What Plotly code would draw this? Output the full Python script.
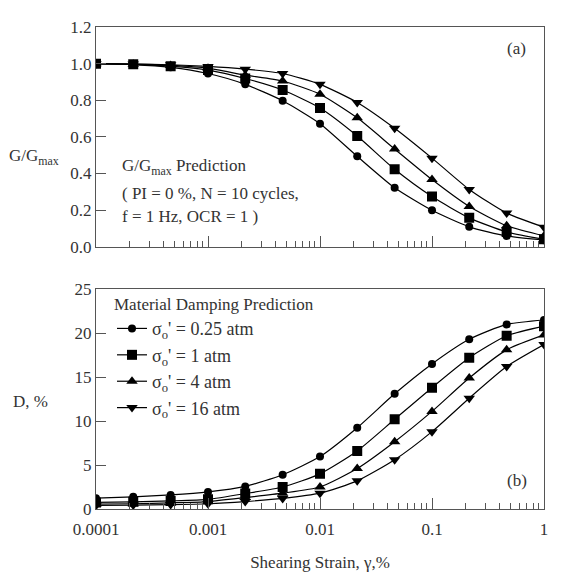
import plotly.graph_objects as go

# ---------------- data ----------------
strain = [0.0001, 0.000215, 0.000464, 0.001, 0.00215, 0.00464, 0.01,
          0.0215, 0.0464, 0.1, 0.215, 0.464, 1.0]

series_names = ["σ<sub>o</sub>' = 0.25 atm", "σ<sub>o</sub>' = 1 atm",
                "σ<sub>o</sub>' = 4 atm", "σ<sub>o</sub>' = 16 atm"]

ggmax_025 = [1.0, 0.995, 0.980, 0.946, 0.887, 0.797, 0.672, 0.494, 0.322, 0.199, 0.109, 0.059, 0.036]
ggmax_1 = [1.0, 0.996, 0.986, 0.965, 0.919, 0.856, 0.758, 0.605, 0.423, 0.274, 0.158, 0.081, 0.041]
ggmax_4 = [1.0, 0.997, 0.990, 0.975, 0.937, 0.905, 0.833, 0.704, 0.534, 0.367, 0.220, 0.115, 0.059]
ggmax_16 = [1.0, 0.998, 0.994, 0.985, 0.970, 0.946, 0.887, 0.788, 0.647, 0.484, 0.313, 0.184, 0.107]

damp_025 = [1.23, 1.38, 1.60, 1.94, 2.57, 3.90, 5.97, 9.25, 13.1, 16.5, 19.3, 21.0, 21.5]
damp_1 = [0.75, 0.82, 0.92, 1.10, 1.75, 2.50, 4.00, 6.60, 10.2, 13.8, 17.2, 19.7, 20.8]
damp_4 = [0.55, 0.60, 0.70, 0.85, 1.30, 1.80, 2.50, 4.60, 7.65, 11.1, 14.9, 18.1, 19.8]
damp_16 = [0.40, 0.45, 0.50, 0.60, 0.85, 1.20, 1.80, 3.20, 5.60, 8.80, 12.6, 16.2, 18.7]

x_tick_vals = [0.0001, 0.001, 0.01, 0.1, 1]
x_tick_text = ["0.0001", "0.001", "0.01", "0.1", "1"]

ggmax_series = [ggmax_025, ggmax_1, ggmax_4, ggmax_16]
damp_series = [damp_025, damp_1, damp_4, damp_16]

note_lines = ["G/G<sub>max</sub> Prediction", "( PI = 0 %, N = 10 cycles,", "f = 1 Hz, OCR = 1 )"]

# ---------------- styling ----------------
OFF = 8  # default page body margin
W, H = 565 - OFF, 582 - OFF
ML, MR, MT, MB = 88, 21, 10, 73
PW, PH = W - ML - MR, H - MT - MB
FONT = "Liberation Serif, Times New Roman, serif"
TXT = "#333333"
AX = "#555555"

symbols = ["circle", "square", "triangle-up", "triangle-down"]
msizes = [8, 10, 10, 10]


def px(x):
    return (x - OFF - ML) / PW


def py(y):
    return (H - MB - (y - OFF)) / PH


fig = go.Figure()

for i in range(4):
    fig.add_trace(go.Scatter(
        x=strain, y=ggmax_series[i], mode="lines+markers",
        line=dict(color="black", width=1.2, shape="spline", smoothing=0.6),
        marker=dict(symbol=symbols[i], size=msizes[i], color="black"),
        xaxis="x", yaxis="y", showlegend=False, name=series_names[i]))

for i in range(4):
    fig.add_trace(go.Scatter(
        x=strain, y=damp_series[i], mode="lines+markers",
        line=dict(color="black", width=1.2, shape="spline", smoothing=0.6),
        marker=dict(symbol=symbols[i], size=msizes[i], color="black"),
        xaxis="x2", yaxis="y2", showlegend=True, name=series_names[i]))

minor_common = dict(ticks="inside", ticklen=6, tickcolor=AX, dtick="D1", showgrid=False)

xcommon = dict(type="log", range=[-4, 0], showline=True, linecolor=AX, linewidth=1.2,
               mirror=True, ticks="inside", ticklen=11, tickcolor=AX, showgrid=False,
               zeroline=False, tickvals=x_tick_vals, ticktext=x_tick_text,
               minor=minor_common,
               tickfont=dict(family=FONT, size=17, color=TXT))

ycommon = dict(showline=True, linecolor=AX, linewidth=1.2, mirror=True,
               ticks="inside", ticklen=10, tickcolor=AX, showgrid=False, zeroline=False,
               tickfont=dict(family=FONT, size=17, color=TXT))


def label(text, x, y, xanchor="center"):
    return dict(text=text, x=px(x), y=py(y), xref="paper", yref="paper",
                xanchor=xanchor, yanchor="middle", showarrow=False,
                font=dict(family=FONT, size=17, color=TXT))


annotations = [
    label("G/G<sub>max</sub>", 34, 150),
    label("D, %", 30, 400),
    label("(a)", 516, 40),
    label("(b)", 517, 480),
]
for txt, yy in zip(note_lines, [161, 188, 211]):
    annotations.append(label(txt, 120, yy, xanchor="left"))

fig.update_layout(
    width=W, height=H,
    margin=dict(l=ML, r=MR, t=MT, b=MB),
    paper_bgcolor="white", plot_bgcolor="white",
    font=dict(family=FONT, color=TXT, size=16),
    xaxis=dict(**xcommon, domain=[0, 1], anchor="y", showticklabels=False),
    yaxis=dict(**ycommon, domain=[0.544, 1], anchor="x", range=[0, 1.2], dtick=0.2,
               tickformat=".1f"),
    xaxis2=dict(**xcommon, domain=[0, 1], anchor="y2", ticklabelstandoff=4,
                title=dict(text="Shearing Strain, γ,%",
                           font=dict(family=FONT, size=17, color=TXT), standoff=18)),
    yaxis2=dict(**ycommon, domain=[0, 0.456], anchor="x2", range=[0, 25], dtick=5),
    legend=dict(x=px(112), y=py(284), xanchor="left", yanchor="top",
                bgcolor="rgba(0,0,0,0)", borderwidth=0,
                font=dict(family=FONT, size=18, color=TXT),
                title=dict(text="Material Damping Prediction",
                           font=dict(family=FONT, size=17, color=TXT)),
                tracegroupgap=0, itemwidth=30),
    annotations=annotations,
)

fig.write_html("out.html")
